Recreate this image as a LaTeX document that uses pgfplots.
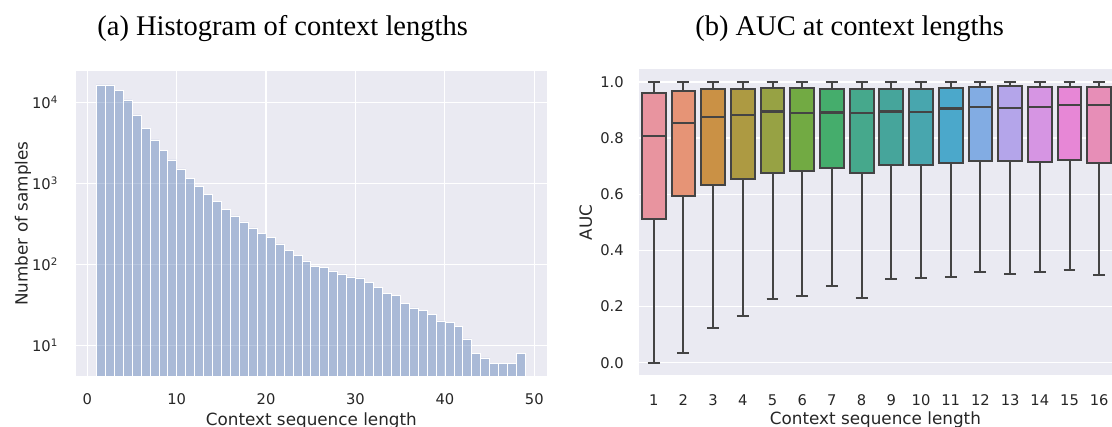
\documentclass[border=0pt]{standalone}
\usepackage{fontspec}
\setmainfont{DejaVu Sans}
\newfontfamily\titlefont{Liberation Serif}
\usepackage{pgfplots}
\pgfplotsset{compat=1.18}
\usepgfplotslibrary{statistics}
\definecolor{bg}{HTML}{EAEAF2}
\definecolor{txt}{HTML}{262626}
\definecolor{hist}{HTML}{4C72B0}
\definecolor{boxline}{HTML}{444444}
\definecolor{c1}{HTML}{E8949F}
\definecolor{c2}{HTML}{E69476}
\definecolor{c3}{HTML}{CA9145}
\definecolor{c4}{HTML}{AD9A42}
\definecolor{c5}{HTML}{97A244}
\definecolor{c6}{HTML}{72AA43}
\definecolor{c7}{HTML}{45AD6C}
\definecolor{c8}{HTML}{46A88C}
\definecolor{c9}{HTML}{46A59B}
\definecolor{c10}{HTML}{48A6AE}
\definecolor{c11}{HTML}{4BA8CB}
\definecolor{c12}{HTML}{82ACE3}
\definecolor{c13}{HTML}{B4A5EA}
\definecolor{c14}{HTML}{D695E3}
\definecolor{c15}{HTML}{E787D6}
\definecolor{c16}{HTML}{E78EB7}
\pgfplotsset{
  sns/.style={
    scale only axis,
    anchor=south west,
    axis background/.style={fill=bg},
    axis line style={draw=none},
    tick style={draw=none},
    major tick length=0pt,
    minor tick length=0pt,
    grid style={white, line width=1.2pt},
    tick label style={font=\fontsize{14.7}{17}\selectfont, text=txt, inner sep=0pt},
    label style={font=\fontsize{16.8}{20}\selectfont, text=txt, inner sep=0pt},
  },
  boxs/.style={draw=boxline, line width=2pt, fill=#1},
}
\begin{document}
\begin{tikzpicture}
\path[use as bounding box] (0,0) rectangle (1112pt,427pt);
\node[anchor=base, inner sep=0pt, font=\titlefont\fontsize{28.5}{34}\selectfont] at (282.6pt,391pt) {(a) Histogram of context lengths};
\node[anchor=base, inner sep=0pt, font=\titlefont\fontsize{28.5}{34}\selectfont] at (849.6pt,391pt) {(b) AUC at context lengths};

\begin{axis}[sns,
  at={(76pt,51pt)}, width=470.7pt, height=305pt,
  ymode=log, log origin y=infty,
  xmin=-1.264, xmax=51.39, ymin=4.18, ymax=24300,
  xmajorgrids=true, ymajorgrids=true,
  xtick={0,10,20,30,40,50}, xticklabels={0,10,20,30,40,50},
  ytick={10,100,1000,10000},
  yticklabels={10\textsuperscript{1},10\textsuperscript{2},10\textsuperscript{3},10\textsuperscript{4}},
  minor ytick={},
  xticklabel style={anchor=north, yshift=-17.5pt},
  yticklabel style={anchor=east, xshift=-18pt},
  xlabel={Context sequence length},
  ylabel={Number of samples},
  xlabel style={at={(axis description cs:0.5,-0.1607)}, anchor=base},
  ylabel style={at={(axis description cs:-0.1126,0.5)}, anchor=center},
]
\addplot[ybar, bar width=1, fill=hist, fill opacity=0.4, draw=white, line width=0.6pt] coordinates {
(1.5,16400) (2.5,16400) (3.5,13900) (4.5,10700) (5.5,6980) (6.5,4780)
(7.5,3430) (8.5,2550) (9.5,1940) (10.5,1500) (11.5,1160) (12.5,918)
(13.5,731) (14.5,600) (15.5,478) (16.5,395) (17.5,333) (18.5,281)
(19.5,239) (20.5,217) (21.5,178) (22.5,150) (23.5,130) (24.5,110)
(25.5,95) (26.5,92) (27.5,83) (28.5,76) (29.5,70) (30.5,68)
(31.5,60) (32.5,52) (33.5,44) (34.5,41) (35.5,33) (36.5,29)
(37.5,27) (38.5,24) (39.5,20) (40.5,19) (41.5,17) (42.5,12)
(43.5,8) (44.5,7) (45.5,6) (46.5,6) (47.5,6) (48.5,8)
};
\end{axis}

\begin{axis}[sns,
  at={(638.85pt,51.7pt)}, width=473.15pt, height=306pt,
  xmin=0.5, xmax=16.43, ymin=-0.045, ymax=1.045,
  xmajorgrids=false, ymajorgrids=true,
  xtick={1,2,3,4,5,6,7,8,9,10,11,12,13,14,15,16},
  xticklabels={1,2,3,4,5,6,7,8,9,10,11,12,13,14,15,16},
  ytick={0,0.2,0.4,0.6,0.8,1},
  yticklabels={0.0,0.2,0.4,0.6,0.8,1.0},
  xticklabel style={anchor=north, yshift=-19.5pt},
  yticklabel style={anchor=east, xshift=-15pt},
  xlabel={Context sequence length},
  ylabel={AUC},
  xlabel style={at={(axis description cs:0.5,-0.1607)}, anchor=base},
  ylabel style={at={(axis description cs:-0.1123,0.5)}, anchor=center},
  boxplot/draw direction=y,
  boxplot/box extend=0.8,
  boxplot/whisker extend=0.4,
  boxplot/every box/.style={draw=boxline, line width=2pt},
  boxplot/every median/.style={draw=boxline, line width=2.2pt},
  boxplot/every whisker/.style={draw=boxline, line width=2pt},
]
\addplot[boxs=c1, boxplot prepared={draw position=1, lower whisker=0.0, lower quartile=0.512, median=0.806, upper quartile=0.960, upper whisker=1.0}] coordinates {};
\addplot[boxs=c2, boxplot prepared={draw position=2, lower whisker=0.036, lower quartile=0.595, median=0.853, upper quartile=0.968, upper whisker=1.0}] coordinates {};
\addplot[boxs=c3, boxplot prepared={draw position=3, lower whisker=0.124, lower quartile=0.633, median=0.876, upper quartile=0.974, upper whisker=1.0}] coordinates {};
\addplot[boxs=c4, boxplot prepared={draw position=4, lower whisker=0.167, lower quartile=0.653, median=0.881, upper quartile=0.974, upper whisker=1.0}] coordinates {};
\addplot[boxs=c5, boxplot prepared={draw position=5, lower whisker=0.227, lower quartile=0.677, median=0.895, upper quartile=0.977, upper whisker=1.0}] coordinates {};
\addplot[boxs=c6, boxplot prepared={draw position=6, lower whisker=0.236, lower quartile=0.681, median=0.888, upper quartile=0.977, upper whisker=1.0}] coordinates {};
\addplot[boxs=c7, boxplot prepared={draw position=7, lower whisker=0.272, lower quartile=0.694, median=0.891, upper quartile=0.974, upper whisker=1.0}] coordinates {};
\addplot[boxs=c8, boxplot prepared={draw position=8, lower whisker=0.230, lower quartile=0.676, median=0.888, upper quartile=0.974, upper whisker=1.0}] coordinates {};
\addplot[boxs=c9, boxplot prepared={draw position=9, lower whisker=0.299, lower quartile=0.704, median=0.895, upper quartile=0.975, upper whisker=1.0}] coordinates {};
\addplot[boxs=c10, boxplot prepared={draw position=10, lower whisker=0.300, lower quartile=0.705, median=0.893, upper quartile=0.976, upper whisker=1.0}] coordinates {};
\addplot[boxs=c11, boxplot prepared={draw position=11, lower whisker=0.305, lower quartile=0.710, median=0.905, upper quartile=0.979, upper whisker=1.0}] coordinates {};
\addplot[boxs=c12, boxplot prepared={draw position=12, lower whisker=0.322, lower quartile=0.717, median=0.911, upper quartile=0.982, upper whisker=1.0}] coordinates {};
\addplot[boxs=c13, boxplot prepared={draw position=13, lower whisker=0.315, lower quartile=0.717, median=0.907, upper quartile=0.986, upper whisker=1.0}] coordinates {};
\addplot[boxs=c14, boxplot prepared={draw position=14, lower whisker=0.322, lower quartile=0.714, median=0.912, upper quartile=0.981, upper whisker=1.0}] coordinates {};
\addplot[boxs=c15, boxplot prepared={draw position=15, lower whisker=0.331, lower quartile=0.722, median=0.919, upper quartile=0.981, upper whisker=1.0}] coordinates {};
\addplot[boxs=c16, boxplot prepared={draw position=16, lower whisker=0.311, lower quartile=0.711, median=0.919, upper quartile=0.981, upper whisker=1.0}] coordinates {};
\end{axis}
\end{tikzpicture}
\end{document}
